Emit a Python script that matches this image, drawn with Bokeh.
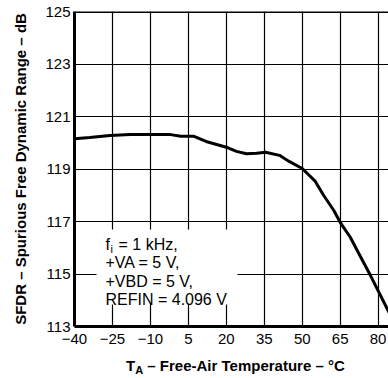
from bokeh.plotting import figure
from bokeh.models import Label, BoxAnnotation, Span, FixedTicker, Div
from bokeh.layouts import column
from bokeh.embed import file_html
from bokeh.resources import INLINE

# Data
temp_c = [-40, -34, -26, -18, -2, 2, 7, 12, 20, 24, 28, 32, 35.5, 41, 45, 50,
          55, 58.5, 62.5, 65, 69, 72, 77, 85]
sfdr_db = [120.15, 120.20, 120.28, 120.31, 120.31, 120.25, 120.25, 120.05,
           119.83, 119.67, 119.58, 119.60, 119.64, 119.52, 119.28, 119.02,
           118.55, 117.99, 117.42, 116.97, 116.40, 115.85, 114.94, 113.40]

x_ticks = [-40, -25, -10, 5, 20, 35, 50, 65, 80]
y_ticks = [113, 115, 117, 119, 121, 123, 125]
x_tick_labels = {t: (str(t).replace("-", "\u2212")) for t in x_ticks}

FONT = "Liberation Sans"

p = figure(width=388, height=352, x_range=(-40, 84.1), y_range=(113, 125),
           output_backend="svg", toolbar_location=None,
           min_border_left=74, min_border_right=0, min_border_top=11,
           min_border_bottom=26)
p.outline_line_color = None
p.background_fill_color = "white"
p.border_fill_color = "white"

for ax in (p.xaxis[0], p.yaxis[0]):
    ax.axis_line_width = 3
    ax.axis_line_color = "black"
    ax.major_tick_in = 0
    ax.major_tick_out = 0
    ax.minor_tick_line_color = None
    ax.major_label_text_font = FONT
    ax.major_label_text_font_size = "15px"
    ax.major_label_text_color = "black"

p.xaxis.ticker = FixedTicker(ticks=x_ticks)
p.xaxis.major_label_overrides = x_tick_labels
p.xaxis.major_label_standoff = 7
p.yaxis.ticker = FixedTicker(ticks=y_ticks)
p.yaxis.major_label_standoff = 4

p.yaxis.axis_label = "SFDR \u2013 Spurious Free Dynamic Range \u2013 dB"
p.yaxis.axis_label_text_font = FONT
p.yaxis.axis_label_text_font_style = "bold"
p.yaxis.axis_label_text_font_size = "15px"
p.yaxis.axis_label_text_color = "black"
p.yaxis.axis_label_standoff = 13

p.xgrid.grid_line_color = "black"
p.xgrid.grid_line_width = 1.2
p.ygrid.grid_line_color = "black"
p.ygrid.grid_line_width = 1.2

# top frame border
p.add_layout(Span(location=125, dimension="width", line_color="black", line_width=3))

# curve
p.line(temp_c, sfdr_db, line_color="black", line_width=3)

# condition box
p.add_layout(BoxAnnotation(left=-31.3, right=24.4, bottom=113.84, top=116.70,
                           fill_color="white", fill_alpha=1.0, line_color=None,
                           level="annotation"))

tx = -27.75
fs = "16px"
p.add_layout(Label(x=tx, y=116.12, text="f", text_font=FONT, text_font_size=fs,
                   text_baseline="alphabetic", text_color="black"))
p.add_layout(Label(x=tx, y=116.12, x_offset=5, y_offset=-4, text="i", text_font=FONT,
                   text_font_size="11px", text_baseline="alphabetic", text_color="black"))
p.add_layout(Label(x=tx, y=116.12, x_offset=13, text="= 1 kHz,", text_font=FONT,
                   text_font_size=fs, text_baseline="alphabetic", text_color="black"))
for yy, t in [(115.43, "+VA = 5 V,"), (114.73, "+VBD = 5 V,"), (114.03, "REFIN = 4.096 V")]:
    p.add_layout(Label(x=tx, y=yy, text=t, text_font=FONT, text_font_size=fs,
                       text_baseline="alphabetic", text_color="black"))

# x-axis title with subscript
x_title = Div(
    text=('<div style="padding-left:126px; padding-top:5px; font-family:\'Liberation Sans\';'
          ' font-weight:bold; font-size:15px; line-height:18px; color:black;'
          ' white-space:nowrap; margin:0;">T<span style="font-size:11px; position:relative;'
          ' top:3px;">A</span> \u2013 Free-Air Temperature \u2013 \u00b0C</div>'),
    width=388, height=26, margin=0)

layout = column(p, x_title, spacing=0)

open("out.html", "w").write(file_html(layout, INLINE))
